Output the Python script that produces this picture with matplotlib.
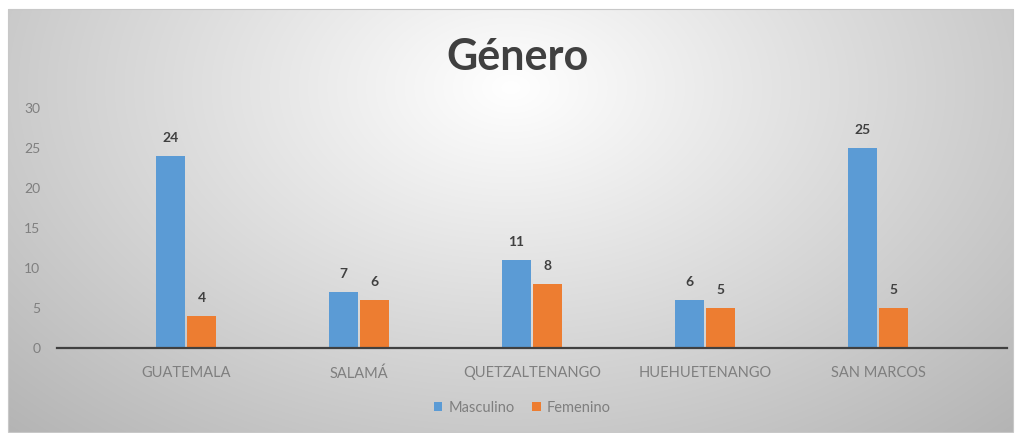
import numpy as np
import matplotlib
matplotlib.use("Agg")
import matplotlib.pyplot as plt

# data
categories = ["GUATEMALA", "SALAMÁ", "QUETZALTENANGO", "HUEHUETENANGO", "SAN MARCOS"]
masculino = [24, 7, 11, 6, 25]
femenino = [4, 6, 8, 5, 5]
series_names = ["Masculino", "Femenino"]
y_ticks = [0, 5, 10, 15, 20, 25, 30]
title = "Género"

blue = "#5B9BD5"
orange = "#ED7D31"
grey_txt = "#7f7f7f"

plt.rcParams['font.family'] = ['Lato', 'DejaVu Sans']

W, H = 1021, 433
fig = plt.figure(figsize=(W / 100, H / 100), dpi=100)

# radial grey background of the chart area
bg = fig.add_axes([0, 0, 1, 1])
bg.set_xlim(0, W)
bg.set_ylim(H, 0)
bg.axis('off')
xx, yy = np.meshgrid(np.arange(W), np.arange(H))
r = np.sqrt(((xx - 510) / 600.0) ** 2 + ((yy - 80) / 400.0) ** 2)
shade = 1.0 - 0.24 * np.clip(r, 0, 1.25) ** 1.0
img = np.dstack([shade, shade, shade])
bg.imshow(img, extent=(8, 1013, 432, 9), aspect='auto', zorder=0)
bg.add_patch(plt.Rectangle((8, 9), 1005, 423, fill=False, ec="#c8c8c8", lw=0.8))

ax = fig.add_axes([57 / W, 1 - 348 / H, 950 / W, 240 / H])
ax.patch.set_alpha(0)

x = np.arange(len(categories))
w = 0.168
b1 = ax.bar(x - 0.092, masculino, w, color=blue, label=series_names[0], zorder=2)
b2 = ax.bar(x + 0.092, femenino, w, color=orange, label=series_names[1], zorder=2)

for bars in (b1, b2):
    for rect in bars:
        ax.annotate(str(int(rect.get_height())),
                    (rect.get_x() + rect.get_width() / 2, rect.get_height()),
                    xytext=(0, 9), textcoords='offset points',
                    ha='center', va='bottom', fontsize=10, fontweight='bold',
                    color="#404040")

ax.set_xlim(-0.746, 4.746)
ax.set_ylim(0, 30)
ax.set_yticks(y_ticks)
ax.set_xticks(x)
ax.set_xticklabels(categories)
ax.tick_params(axis='y', length=0, pad=12, labelsize=10, labelcolor=grey_txt)
ax.tick_params(axis='x', length=0, pad=13, labelsize=10.5, labelcolor=grey_txt)
for s in ('top', 'right', 'left'):
    ax.spines[s].set_visible(False)
ax.spines['bottom'].set_color("#404040")
ax.spines['bottom'].set_linewidth(1.6)

fig.text(518 / W, 1 - 57 / H, title, ha='center', va='center',
         fontsize=31, fontweight='bold', color="#404040")

leg = fig.legend(loc='center', bbox_to_anchor=(522 / W, 1 - 408 / H), ncol=2,
                 frameon=False, fontsize=10.5, handlelength=0.6, handleheight=0.6,
                 handletextpad=0.4, columnspacing=1.2)
for t in leg.get_texts():
    t.set_color(grey_txt)

fig.savefig("out.png", dpi=100)
